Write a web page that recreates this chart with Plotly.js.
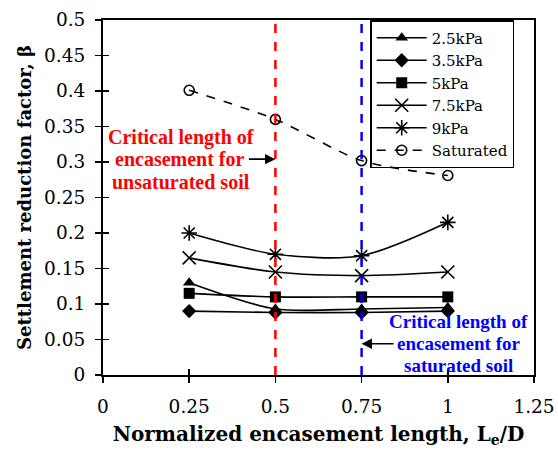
<!DOCTYPE html>
<html>
<head>
<meta charset="utf-8">
<script src="https://cdn.plot.ly/plotly-3.0.1.min.js"></script>
<style>
  html, body { margin: 0; padding: 0; background: #fff; }
  #chart { width: 558px; height: 450px; }
</style>
</head>
<body>
<div id="chart"></div>
<script>
// Normalized encasement length Le/D
const lengths = [0.25, 0.5, 0.75, 1];

// Settlement reduction factor for each suction level / saturated case
const beta2_5kPa = [0.13, 0.093, 0.093, 0.095];
const beta3_5kPa = [0.09, 0.088, 0.088, 0.09];
const beta5kPa   = [0.115, 0.11, 0.11, 0.11];
const beta7_5kPa = [0.165, 0.145, 0.14, 0.145];
const beta9kPa   = [0.2, 0.17, 0.168, 0.215];
const betaSat    = [0.401, 0.36, 0.302, 0.281];

const seriesNames = ['2.5kPa', '3.5kPa', '5kPa', '7.5kPa', '9kPa', 'Saturated'];

// Critical encasement lengths: unsaturated and saturated soil
const criticalUnsat = 0.5;
const criticalSat = 0.75;

const xTicks = [0, 0.25, 0.5, 0.75, 1, 1.25];
const yTicks = [0, 0.05, 0.1, 0.15, 0.2, 0.25, 0.3, 0.35, 0.4, 0.45, 0.5];

const SERIF = 'DejaVu Serif, serif';
const NOTE = 'Liberation Serif, Times New Roman, serif';

function series(name, y, symbol, size, dash, lineW) {
  return {
    x: lengths, y: y, name: name, type: 'scatter', mode: 'lines+markers',
    line: { color: '#000', width: 1.6, shape: 'spline', smoothing: 0.8, dash: dash || 'solid' },
    marker: { symbol: symbol, size: size, color: '#000', line: { color: '#000', width: lineW || 0 } }
  };
}

const traces = [
  series(seriesNames[0], beta2_5kPa, 'triangle-up', 11),
  series(seriesNames[1], beta3_5kPa, 'diamond', 11),
  series(seriesNames[2], beta5kPa, 'square', 11),
  series(seriesNames[3], beta7_5kPa, 'x-thin-open', 13, 'solid', 1.6),
  series(seriesNames[4], beta9kPa, 'asterisk-open', 13, 'solid', 1.6),
  series(seriesNames[5], betaSat, 'circle-open', 10, 'dash', 1.6)
];

// Inside half of the crossing tick marks
traces.push({ x: [0], y: [0], xaxis: 'x2', yaxis: 'y2', mode: 'markers',
  marker: { opacity: 0 }, showlegend: false, hoverinfo: 'skip' });

const shapes = [
  { type: 'line', xref: 'x', yref: 'y', x0: criticalUnsat, x1: criticalUnsat, y0: 0, y1: 0.5,
    line: { color: '#ff0000', width: 2.5, dash: 'dash' } },
  { type: 'line', xref: 'x', yref: 'y', x0: criticalSat, x1: criticalSat, y0: 0, y1: 0.5,
    line: { color: '#0000ff', width: 2.5, dash: 'dash' } }
];

function noteLine(text, x, y, color, size) {
  return { xref: 'x', yref: 'y', x: x, y: y, text: '<b>' + text + '</b>', showarrow: false,
    font: { family: NOTE, size: size, color: color } };
}

// Middle line of each note carries the arrow pointing at its critical length
function noteArrowLine(text, xHead, yHead, ax, color, size) {
  return { xref: 'x', yref: 'y', x: xHead, y: yHead, ax: ax, ay: 0,
    text: '<b>' + text + '</b>', showarrow: true, arrowhead: 2, arrowsize: 1.3,
    arrowwidth: 1.6, arrowcolor: '#000', standoff: 0, startstandoff: 2,
    font: { family: NOTE, size: size, color: color } };
}

const annotations = [
  noteLine('Critical length of', 0.227, 0.334, '#ff0000', 20),
  noteArrowLine('encasement for', criticalUnsat, 0.304, -95, '#ff0000', 20),
  noteLine('unsaturated soil', 0.227, 0.272, '#ff0000', 20),
  noteLine('Critical length of', 1.032, 0.076, '#0000ff', 19),
  noteArrowLine('encasement for', criticalSat, 0.044, 97, '#0000ff', 19),
  noteLine('saturated soil', 1.032, 0.014, '#0000ff', 19)
];

const axisCommon = {
  showgrid: false, zeroline: false, showline: true, linecolor: '#000', linewidth: 2,
  mirror: true, ticks: 'outside', ticklen: 6, tickwidth: 1.5, tickcolor: '#000',
  tickfont: { family: SERIF, size: 18.5, color: '#000' }
};

const layout = {
  width: 558, height: 450,
  margin: { l: 103, r: 24, t: 20, b: 75 },
  paper_bgcolor: '#fff', plot_bgcolor: '#fff',
  font: { family: SERIF, color: '#000' },
  showlegend: true,
  legend: {
    x: 0.62, y: 1, xanchor: 'left', yanchor: 'top',
    bgcolor: 'rgba(255,255,255,0)', bordercolor: '#000', borderwidth: 1.5,
    font: { family: SERIF, size: 15, color: '#000' },
    tracegroupgap: 0, itemwidth: 50
  },
  xaxis: Object.assign({}, axisCommon, {
    range: [0, 1.25], tickvals: xTicks, ticktext: xTicks.map(String),
    ticklabelstandoff: 8,
    title: { text: '<b>Normalized encasement length, L<sub>e</sub>/D</b>', standoff: 11,
      font: { family: SERIF, size: 20, color: '#000' } }
  }),
  yaxis: Object.assign({}, axisCommon, {
    range: [0, 0.5], tickvals: yTicks, ticktext: yTicks.map(String),
    ticklabelstandoff: 6,
    title: { text: '<b>Settlement reduction factor, β</b>', standoff: 8,
      font: { family: SERIF, size: 18, color: '#000' } }
  }),
  xaxis2: { overlaying: 'x', range: [0, 1.25], tickvals: xTicks, ticks: 'inside', ticklen: 6,
    tickwidth: 1.5, tickcolor: '#000', showticklabels: false, showgrid: false, zeroline: false,
    showline: false, side: 'bottom' },
  yaxis2: { overlaying: 'y', range: [0, 0.5], tickvals: yTicks, ticks: 'inside', ticklen: 6,
    tickwidth: 1.5, tickcolor: '#000', showticklabels: false, showgrid: false, zeroline: false,
    showline: false, side: 'left' },
  shapes: shapes,
  annotations: annotations
};

Plotly.newPlot('chart', traces, layout, { displayModeBar: false, staticPlot: true });
</script>
</body>
</html>
